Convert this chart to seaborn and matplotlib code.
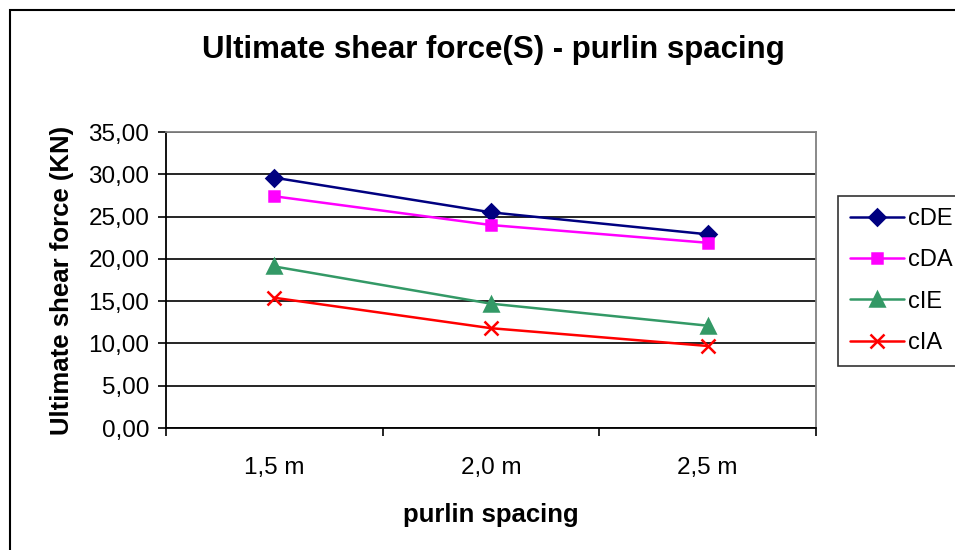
import matplotlib
matplotlib.use("Agg")
import matplotlib.pyplot as plt
from matplotlib.patches import Rectangle
from matplotlib.ticker import FuncFormatter, FixedLocator
import seaborn as sns
import pandas as pd

categories = ["1,5 m", "2,0 m", "2,5 m"]
series_names = ["cDE", "cDA", "cIE", "cIA"]
cDE = [29.6, 25.5, 22.9]
cDA = [27.4, 24.0, 21.9]
cIE = [19.1, 14.7, 12.1]
cIA = [15.4, 11.8, 9.7]
colors = ["#000080", "#FF00FF", "#339966", "#FF0000"]
markers = ["D", "s", "^", "x"]
msizes = [8, 7.5, 9.5, 10]

sns.set_theme(style="white")
plt.rcParams["font.family"] = ["Liberation Sans", "DejaVu Sans"]
for k in ["text.color", "axes.labelcolor", "xtick.color", "ytick.color"]:
    plt.rcParams[k] = "black"

fig = plt.figure(figsize=(9.55, 5.5), dpi=100)
ax = fig.add_axes([166/955, 1-428/550, (816-166)/955, (428-132)/550])

for name, vals, col, m, ms in zip(series_names, [cDE, cDA, cIE, cIA], colors, markers, msizes):
    d = pd.DataFrame({"spacing": categories, "S": vals})
    sns.lineplot(data=d, x="spacing", y="S", color=col, marker=m, markersize=ms,
                 markeredgecolor=col, markerfacecolor=col, markeredgewidth=1.8,
                 linewidth=1.8, sort=False, ax=ax, label=name)

ax.set_ylim(0, 35)
ax.set_xlim(-0.5, 2.5)
ax.set_yticks([0, 5, 10, 15, 20, 25, 30, 35])
ax.yaxis.set_major_formatter(FuncFormatter(lambda v, p: f"{v:.2f}".replace(".", ",")))
ax.yaxis.grid(True, color="black", linewidth=1.2)
ax.xaxis.grid(False)
ax.set_xticks([0, 1, 2])
ax.set_xticklabels(categories)
ax.xaxis.set_minor_locator(FixedLocator([-0.5, 0.5, 1.5, 2.5]))
ax.tick_params(axis="x", which="major", length=0, pad=21, labelsize=17.5, colors="black")
ax.tick_params(axis="x", which="minor", length=6, width=1.2, direction="out", bottom=True, color="black")
ax.tick_params(axis="y", which="major", length=6, width=1.2, direction="out", left=True,
               labelsize=17.5, pad=6, colors="black")
for s in ["left", "bottom"]:
    ax.spines[s].set_color("black")
    ax.spines[s].set_linewidth(1.3)
for s in ["top", "right"]:
    ax.spines[s].set_color("#808080")
    ax.spines[s].set_linewidth(1.3)

ax.set_xlabel("purlin spacing", fontsize=18.5, fontweight="bold", labelpad=17)
ax.set_ylabel("Ultimate shear force (KN)", fontsize=18.5, fontweight="bold", labelpad=10)
fig.text(493/955, 1-50/550, "Ultimate shear force(S) - purlin spacing",
         ha="center", va="center", fontsize=22.5, fontweight="bold")

handles, labels = ax.get_legend_handles_labels()
if ax.get_legend():
    ax.get_legend().remove()
leg = fig.legend(handles, labels, loc="upper left", bbox_to_anchor=(838/955, 1-196/550),
                 frameon=True, fancybox=False, fontsize=17, handlelength=2.3,
                 labelspacing=0.82, borderpad=0.5, handletextpad=0.15, borderaxespad=0)
leg.get_frame().set_edgecolor("black")
leg.get_frame().set_linewidth(1.2)

fig.patches.append(Rectangle((10/955, -0.1), 1.2, 1 - 10/550 + 0.1, transform=fig.transFigure,
                             fill=False, edgecolor="black", linewidth=1.5, zorder=-1))

fig.savefig("out.png", dpi=100)
